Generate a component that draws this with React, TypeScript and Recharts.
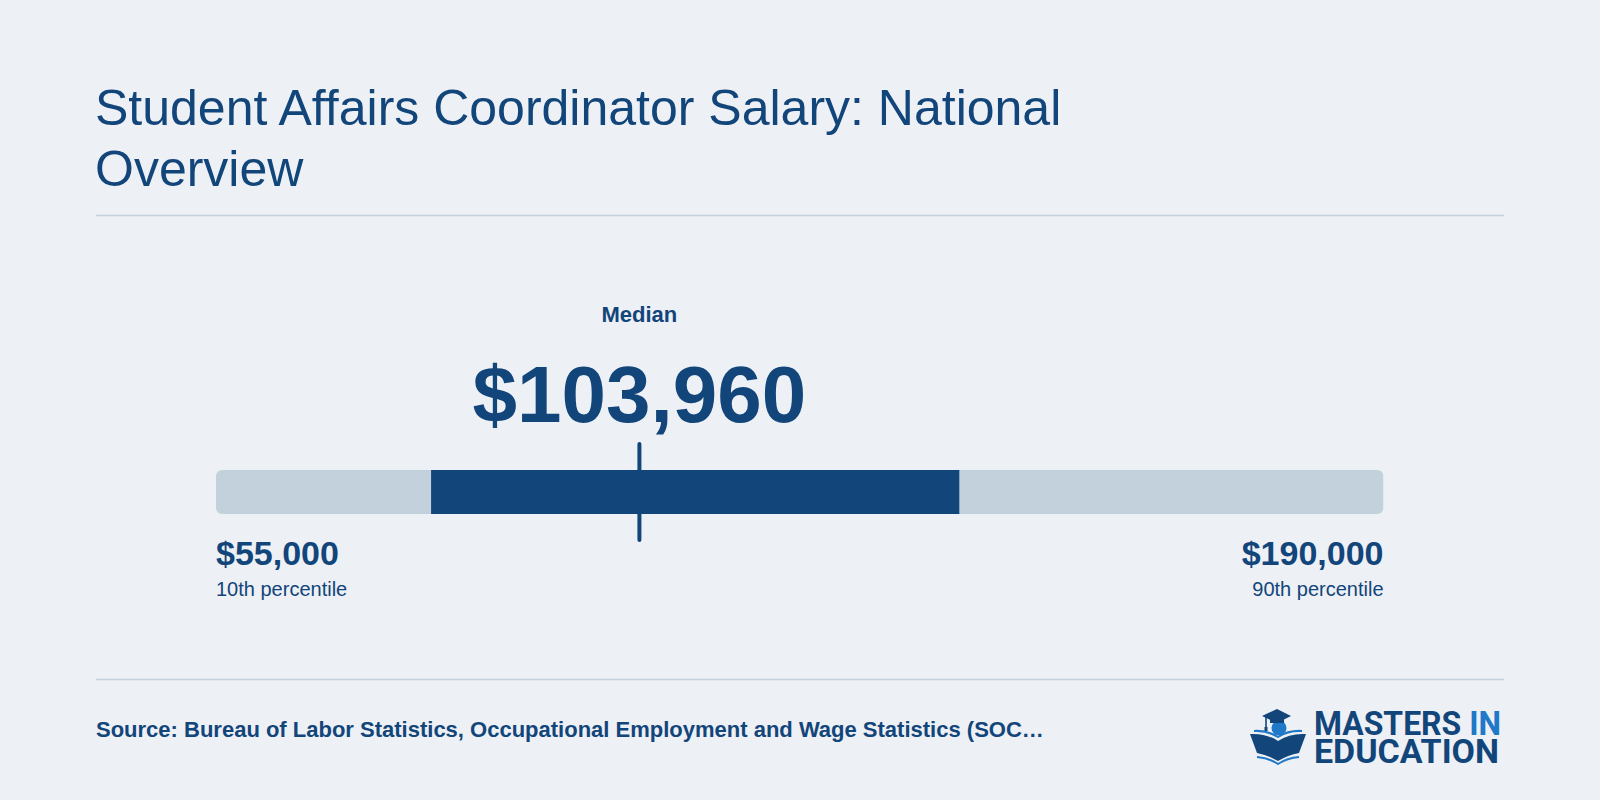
import React from 'react';
import { BarChart, Bar, XAxis, YAxis, ReferenceLine, LabelList } from 'recharts';

// Annual wage distribution, Student Affairs Coordinator (national)
const categories = ['Student Affairs Coordinator'];
const outerRange = [55000, 190000]; // 10th – 90th percentile
const innerRange = [79870, 140950]; // 25th – 75th percentile
const medianWage = 103960;
const percentileLabels = ['10th percentile', '90th percentile'];

const titleLines = ['Student Affairs Coordinator Salary: National', 'Overview'];
const sourceText =
  'Source: Bureau of Labor Statistics, Occupational Employment and Wage Statistics (SOC…';

const data = categories.map((name) => ({ name, outer: outerRange, inner: innerRange }));

const W = 1600;
const H = 800;
const FONT = "'Liberation Sans', Arial, Helvetica, sans-serif";
const DARK = '#12457a';
const LIGHT_BAR = '#c3d1dc';
const RULE = '#c6d0da';
const BG = '#edf0f5';
const ACCENT = '#1f78c8';

const money = (v: number) => `$${v.toLocaleString('en-US')}`;

const MedianLabel = (props: any) => {
  const vb = props.viewBox || {};
  const cx = vb.x ?? 0;
  const top = vb.y ?? 0;
  return (
    <g fontFamily={FONT} fill={DARK} textAnchor="middle">
      <text x={cx} y={top - 122} fontSize={22} fontWeight={700}>
        Median
      </text>
      <text x={cx} y={top - 22} fontSize={80} fontWeight={700}>
        {money(medianWage)}
      </text>
    </g>
  );
};

const EndLabels = (props: any) => {
  const { x, y, width, height } = props;
  const left = Number(x);
  const right = Number(x) + Number(width);
  const bottom = Number(y) + Number(height);
  return (
    <g fontFamily={FONT} fill={DARK}>
      <text x={left} y={bottom + 51} fontSize={34} fontWeight={700} textAnchor="start">
        {money(outerRange[0])}
      </text>
      <text x={left} y={bottom + 82} fontSize={20} textAnchor="start">
        {percentileLabels[0]}
      </text>
      <text x={right} y={bottom + 51} fontSize={34} fontWeight={700} textAnchor="end">
        {money(outerRange[1])}
      </text>
      <text x={right} y={bottom + 82} fontSize={20} textAnchor="end">
        {percentileLabels[1]}
      </text>
    </g>
  );
};

const Logo = () => (
  <g>
    {/* mortarboard and head */}
    <circle cx={1279} cy={728} r={7.5} fill={ACCENT} />
    <path d="M1262,716 L1277,709 L1291,716 L1277,723 Z" fill={DARK} />
    <path d="M1270,719 L1284,719 L1284,723 L1270,723 Z" fill={DARK} />
    <line x1={1266} y1={717} x2={1266} y2={729} stroke={DARK} strokeWidth={1.6} />
    <rect x={1264.5} y={727} width={3} height={4} fill={DARK} />
    {/* open book */}
    <path
      d="M1250,734 Q1266,733 1278,741 Q1290,733 1306,734 L1299,753 Q1288,755 1278,761 Q1268,755 1257,753 Z"
      fill={DARK}
    />
    <path d="M1254,731 Q1267,730 1278,737 Q1289,730 1302,731" fill="none" stroke={ACCENT} strokeWidth={2} />
    <path d="M1257,757 Q1269,758 1278,764 Q1287,758 1299,757" fill="none" stroke={ACCENT} strokeWidth={2} />
    <text
      x={1314}
      y={734.5}
      fontFamily="Roboto, 'Liberation Sans', sans-serif"
      fontWeight={700}
      fontSize={33}
      textLength={187}
      lengthAdjust="spacingAndGlyphs"
      fill={DARK}
    >
      MASTERS <tspan fill={ACCENT}>IN</tspan>
    </text>
    <text
      x={1314}
      y={762.5}
      fontFamily="Roboto, 'Liberation Sans', sans-serif"
      fontWeight={700}
      fontSize={33}
      textLength={185}
      lengthAdjust="spacingAndGlyphs"
      fill={DARK}
    >
      EDUCATION
    </text>
  </g>
);

export default function App() {
  return (
    <div
      style={{
        position: 'absolute',
        left: 0,
        top: 0,
        width: W,
        height: H,
        background: BG,
        overflow: 'hidden',
      }}
    >
      <svg width={W} height={H} style={{ position: 'absolute', left: 0, top: 0 }}>
        <g fontFamily={FONT} fill={DARK}>
          {titleLines.map((line, i) => (
            <text key={line} x={95} y={125 + i * 61} fontSize={50}>
              {line}
            </text>
          ))}
          <text x={96} y={737} fontSize={22} fontWeight={700}>
            {sourceText}
          </text>
        </g>
        <line x1={96} x2={1504} y1={215.5} y2={215.5} stroke={RULE} strokeWidth={1.5} />
        <line x1={96} x2={1504} y1={679.5} y2={679.5} stroke={RULE} strokeWidth={1.5} />
        <Logo />
      </svg>
      <div style={{ position: 'absolute', left: 0, top: 0 }}>
        <BarChart
          width={W}
          height={H}
          data={data}
          layout="vertical"
          margin={{ top: 444, right: 216.5, bottom: 260, left: 216 }}
        >
          <XAxis type="number" domain={outerRange} hide allowDataOverflow />
          <YAxis yAxisId="outer" type="category" dataKey="name" hide />
          <YAxis yAxisId="inner" type="category" dataKey="name" hide />
          <Bar
            yAxisId="outer"
            dataKey="outer"
            fill={LIGHT_BAR}
            barSize={44}
            radius={6}
            isAnimationActive={false}
          >
            <LabelList dataKey="outer" content={EndLabels} />
          </Bar>
          <Bar
            yAxisId="inner"
            dataKey="inner"
            fill={DARK}
            barSize={44}
            isAnimationActive={false}
          />
          <ReferenceLine
            yAxisId="outer"
            x={medianWage}
            stroke={DARK}
            strokeWidth={4}
            strokeLinecap="round"
            label={<MedianLabel />}
          />
        </BarChart>
      </div>
    </div>
  );
}
